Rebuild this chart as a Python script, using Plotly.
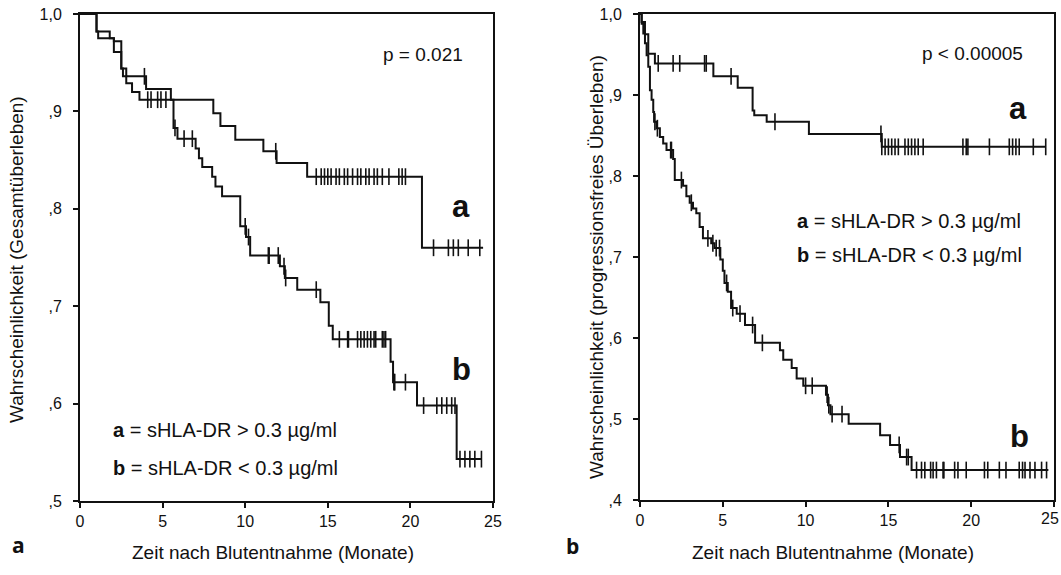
import numpy as np
import plotly.graph_objects as go

FONT = "Liberation Sans, Arial, sans-serif"
BLACK = "#111111"

# ---- Panel a: Gesamtueberleben ----
OS_A_T = [0, 1.0, 1.8, 2.05, 2.5, 2.8, 4.0, 5.5, 8.07, 8.5, 9.4, 11.1, 11.9, 13.75, 20.7]
OS_A_S = [1.0, 0.982, 0.975, 0.972, 0.944, 0.936, 0.923, 0.912, 0.898, 0.885, 0.871, 0.859, 0.847, 0.833, 0.760]
OS_A_END = 24.4
OS_A_CENS = [3.9, 11.85, 14.3, 14.6, 14.8, 15.0, 15.2, 15.5, 15.7, 16.0, 16.2, 16.5, 16.8,
             17.0, 17.3, 17.5, 17.8, 18.0, 18.3, 18.7, 19.3, 19.5, 19.7,
             21.4, 22.3, 22.6, 22.9, 23.5, 24.2]

OS_B_T = [0, 1.0, 1.1, 2.05, 2.5, 2.6, 2.8, 3.15, 3.6, 5.66, 5.9, 7.0, 7.2, 7.4, 8.0, 8.2, 8.6,
          9.7, 10.05, 10.3, 12.1, 12.4, 13.15, 14.55, 15.06, 15.3, 18.8, 18.95, 20.4, 22.8]
OS_B_S = [1.0, 0.982, 0.975, 0.961, 0.944, 0.936, 0.929, 0.920, 0.912, 0.883, 0.872, 0.862, 0.852,
          0.843, 0.833, 0.823, 0.813, 0.782, 0.771, 0.752, 0.741, 0.729, 0.717, 0.704, 0.680, 0.666,
          0.643, 0.622, 0.598, 0.543]
OS_B_END = 24.3
OS_B_CENS = [4.1, 4.3, 4.7, 4.9, 5.2, 5.75, 6.3, 6.8, 10.0, 10.2, 11.4, 11.45, 12.0, 12.35, 12.45,
             14.3, 15.7, 16.2, 16.25, 16.8, 17.0, 17.2, 17.4, 17.6, 17.8, 17.9, 18.3, 18.4, 18.5,
             19.0, 19.05, 19.7, 20.8, 21.6, 21.9, 22.2, 22.5, 22.7, 23.0, 23.3, 23.6, 23.9, 24.3]

# ---- Panel b: progressionsfreies Ueberleben ----
PFS_A_T = [0, 0.1, 0.3, 0.5, 0.9, 4.43, 5.9, 6.8, 6.9, 7.65, 10.2, 14.6]
PFS_A_S = [1.0, 0.99, 0.975, 0.951, 0.939, 0.923, 0.909, 0.881, 0.875, 0.867, 0.852, 0.836]
PFS_A_END = 24.5
PFS_A_CENS = [1.1, 2.0, 2.4, 3.9, 4.0, 5.5, 8.15, 14.55,
              14.6, 14.8, 15.0, 15.2, 15.4, 15.6, 16.0, 16.2, 16.4, 16.6, 16.8, 17.1,
              19.5, 19.7, 19.8, 21.1, 22.3, 22.5, 22.7, 22.9, 23.75, 24.5]

PFS_B_T = [0, 0.1, 0.2, 0.3, 0.4, 0.5, 0.6, 0.7, 0.8, 0.85, 1.0, 1.2, 1.4, 1.6, 2.0, 2.1, 2.6,
           2.8, 3.0, 3.2, 3.4, 3.6, 3.8, 4.3, 4.5, 4.85, 5.0, 5.1, 5.3, 5.5, 5.84, 6.34, 6.95,
           8.45, 8.65, 9.16, 9.46, 9.86, 11.23, 11.35, 11.5, 12.6, 14.5, 15.1, 15.7, 16.4]
PFS_B_S = [1.0, 0.988, 0.976, 0.964, 0.949, 0.935, 0.906, 0.894, 0.879, 0.867, 0.859, 0.848,
           0.840, 0.832, 0.821, 0.795, 0.788, 0.775, 0.767, 0.760, 0.754, 0.737, 0.723, 0.717,
           0.711, 0.697, 0.683, 0.668, 0.657, 0.637, 0.630, 0.616, 0.594, 0.585, 0.573, 0.563,
           0.550, 0.541, 0.530, 0.517, 0.506, 0.494, 0.480, 0.468, 0.453, 0.437]
PFS_B_END = 24.66
PFS_B_CENS = [0.9, 1.05, 1.85, 1.9, 2.5, 3.1, 4.1, 4.4, 4.6, 4.8, 5.23, 5.6, 6.04, 6.8, 7.39,
              10.0, 10.4, 11.3, 11.4, 11.6, 12.2, 15.65, 16.1, 16.2,
              16.7, 17.0, 17.2, 17.55, 17.7, 17.9, 18.3, 18.35, 19.0, 19.2, 19.7, 20.8, 21.0,
              21.7, 22.1, 22.9, 23.1, 23.25, 23.55, 23.85, 24.25, 24.55]

X_TICKS = [0, 5, 10, 15, 20, 25]
OS_Y_TICKS = [0.5, 0.6, 0.7, 0.8, 0.9, 1.0]
OS_Y_LABELS = [",5", ",6", ",7", ",8", ",9", "1,0"]
PFS_Y_TICKS = [0.4, 0.5, 0.6, 0.7, 0.8, 0.9, 1.0]
PFS_Y_LABELS = [",4", ",5", ",6", ",7", ",8", ",9", "1,0"]

W, H = 1061, 575


def km_traces(times, surv, end, cens, xa, ya):
    t = np.array(times, dtype=float)
    s = np.array(surv, dtype=float)
    c = np.array(cens, dtype=float)
    idx = np.searchsorted(t, c, side="right") - 1
    line = go.Scatter(
        x=list(t) + [end], y=list(s) + [s[-1]], mode="lines",
        line=dict(shape="hv", color=BLACK, width=2), xaxis=xa, yaxis=ya,
        showlegend=False, hoverinfo="skip",
    )
    ticks = go.Scatter(
        x=c, y=s[idx], mode="markers", xaxis=xa, yaxis=ya,
        marker=dict(symbol="line-ns", size=12, line=dict(color=BLACK, width=1.6)),
        showlegend=False, hoverinfo="skip",
    )
    return [line, ticks]


fig = go.Figure()
for tr in (km_traces(OS_A_T, OS_A_S, OS_A_END, OS_A_CENS, "x", "y")
           + km_traces(OS_B_T, OS_B_S, OS_B_END, OS_B_CENS, "x", "y")
           + km_traces(PFS_A_T, PFS_A_S, PFS_A_END, PFS_A_CENS, "x2", "y2")
           + km_traces(PFS_B_T, PFS_B_S, PFS_B_END, PFS_B_CENS, "x2", "y2")):
    fig.add_trace(tr)

axis_common = dict(
    showline=True, linecolor=BLACK, linewidth=2, mirror=True, showgrid=False,
    zeroline=False, ticks="outside", ticklen=5, tickwidth=1.5, tickcolor=BLACK,
    tickfont=dict(family=FONT, size=16, color=BLACK), automargin=False,
)

fig.update_layout(
    width=W, height=H,
    margin=dict(l=0, r=0, t=0, b=0, autoexpand=False),
    paper_bgcolor="white", plot_bgcolor="white",
    font=dict(family=FONT, color=BLACK),
    xaxis=dict(domain=[80 / W, 493 / W], range=[0, 25], tickvals=X_TICKS, anchor="y", **axis_common),
    yaxis=dict(domain=[1 - 501 / H, 1 - 14 / H], range=[0.5, 1.0], tickvals=OS_Y_TICKS,
               ticktext=OS_Y_LABELS, anchor="x", ticklabelstandoff=8, **axis_common),
    xaxis2=dict(domain=[640 / W, 1054 / W], range=[0, 25], tickvals=X_TICKS, anchor="y2", **axis_common),
    yaxis2=dict(domain=[1 - 500 / H, 1 - 14 / H], range=[0.4, 1.0], tickvals=PFS_Y_TICKS,
                ticktext=PFS_Y_LABELS, anchor="x2", ticklabelstandoff=8, **axis_common),
)

ptxt = dict(family=FONT, size=19, color=BLACK)
ltxt = dict(family=FONT, size=20, color=BLACK)
big = dict(family=FONT, size=31, color=BLACK)
title_font = dict(family=FONT, size=19, color=BLACK)
letter_font = dict(family="Open Sans, sans-serif", size=21, color=BLACK)

notes = [
    # left panel
    dict(x=23.3, y=0.958, xref="x", yref="y", xanchor="right", text="p = 0.021", font=ptxt),
    dict(x=23.07, y=0.802, xref="x", yref="y", text="<b>a</b>", font=big),
    dict(x=23.07, y=0.635, xref="x", yref="y", text="<b>b</b>", font=big),
    dict(x=1.9, y=0.573, xref="x", yref="y", xanchor="left",
         text="<b>a</b> = sHLA-DR > 0.3 µg/ml", font=ltxt),
    dict(x=1.9, y=0.534, xref="x", yref="y", xanchor="left",
         text="<b>b</b> = sHLA-DR < 0.3 µg/ml", font=ltxt),
    # right panel
    dict(x=23.25, y=0.951, xref="x2", yref="y2", xanchor="right", text="p < 0.00005", font=ptxt),
    dict(x=22.83, y=0.883, xref="x2", yref="y2", text="<b>a</b>", font=big),
    dict(x=22.9, y=0.478, xref="x2", yref="y2", text="<b>b</b>", font=big),
    dict(x=9.36, y=0.744, xref="x2", yref="y2", xanchor="left",
         text="<b>a</b> = sHLA-DR > 0.3 µg/ml", font=ltxt),
    dict(x=9.36, y=0.703, xref="x2", yref="y2", xanchor="left",
         text="<b>b</b> = sHLA-DR < 0.3 µg/ml", font=ltxt),
    # last x tick label of the right panel (plotly drops it at the page edge)
    dict(x=1.0, y=1 - 518 / H, xanchor="right", text=str(X_TICKS[-1]),
         font=dict(family=FONT, size=16, color=BLACK)),
    # axis titles
    dict(x=273 / W, y=1 - 552 / H, text="Zeit nach Blutentnahme (Monate)", font=title_font),
    dict(x=833 / W, y=1 - 552 / H, text="Zeit nach Blutentnahme (Monate)", font=title_font),
    dict(x=16 / W, y=1 - 260 / H, textangle=-90,
         text="Wahrscheinlichkeit (Gesamtüberleben)", font=title_font),
    dict(x=597 / W, y=1 - 267 / H, textangle=-90,
         text="Wahrscheinlichkeit (progressionsfreies Überleben)", font=title_font),
    # panel letters
    dict(x=18 / W, y=1 - 545 / H, text="<b>a</b>", font=letter_font),
    dict(x=572 / W, y=1 - 546 / H, text="<b>b</b>", font=letter_font),
]
for n in notes:
    n.setdefault("xref", "paper")
    n.setdefault("yref", "paper")
    n.setdefault("xanchor", "center")
    n.setdefault("yanchor", "middle")
    fig.add_annotation(showarrow=False, **n)

fig.write_html("out.html", config={"displayModeBar": False},
               post_script="document.body.style.margin='0';")
